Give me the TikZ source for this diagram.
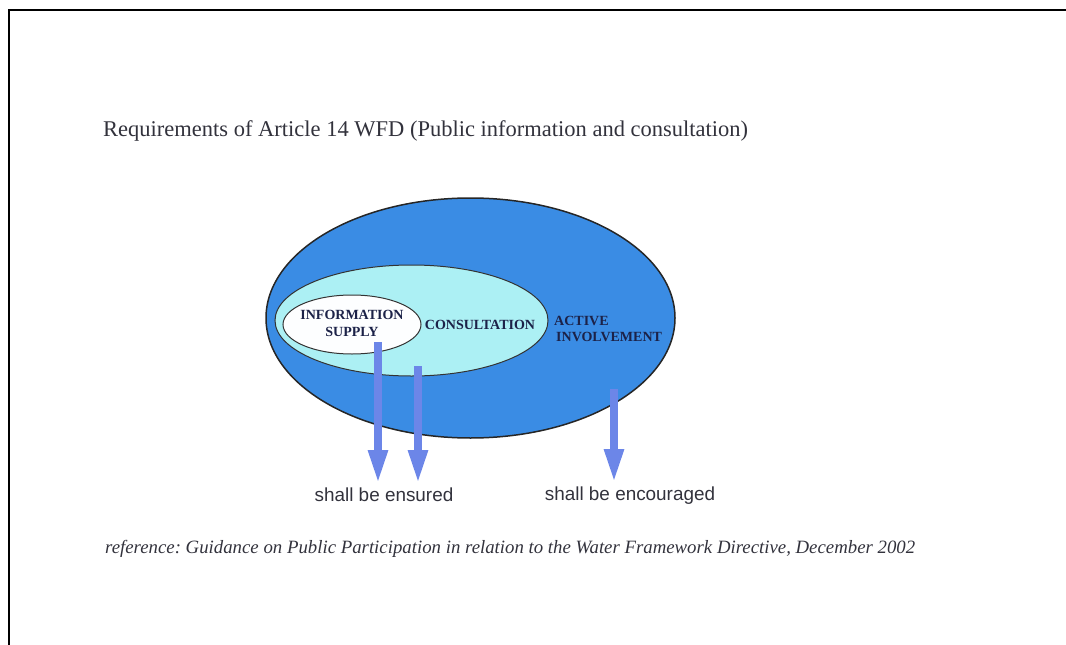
\documentclass[tikz,border=0pt]{standalone}
\usepackage{fontspec}
\setmainfont{Liberation Serif}
\newfontfamily\arialf{Liberation Sans}
\usetikzlibrary{arrows.meta}
\frenchspacing
\definecolor{outerblue}{RGB}{58,140,228}
\definecolor{consultc}{RGB}{172,240,244}
\definecolor{infoc}{RGB}{253,254,255}
\definecolor{arrowc}{RGB}{108,134,232}
\definecolor{labc}{RGB}{28,34,72}
\definecolor{grayt}{RGB}{50,50,60}
\begin{document}
\begin{tikzpicture}[x=1pt,y=-1pt,
  frame/.style={line width=2pt,black},
  elllab/.style={font=\fontsize{14}{15}\selectfont\bfseries,text=labc,inner sep=0pt},
  downarrow/.style={draw=arrowc,line width=8pt,-{Triangle[width=18pt,length=34pt]}},
  saylab/.style={font=\arialf\fontsize{18.9}{21}\selectfont,text=grayt,inner sep=0pt,anchor=base}]
\useasboundingbox (0,0) rectangle (1066,645);
\draw[frame] (9,645) -- (9,10) -- (1066,10);
\node[anchor=west,inner sep=0pt,font=\fontsize{22.5}{26}\selectfont,text=grayt] (title) at (103,131) {Requirements of Article 14 WFD (Public information and consultation)};
% ellipses
\draw[fill=outerblue,line width=1.5pt,draw=black!85] (470.5,318) ellipse [x radius=204.5,y radius=120];
\draw[fill=consultc,line width=1pt,draw=black!80] (411.5,320.5) ellipse [x radius=136.5,y radius=55.5];
\draw[fill=infoc,line width=1pt,draw=black!80] (352,324.5) ellipse [x radius=69,y radius=29.5];
% arrow anchor coordinates
\coordinate (a1s) at (378,342);
\coordinate (a1e) at (378,484);
\coordinate (a2s) at (418,366);
\coordinate (a2e) at (418,484);
\coordinate (a3s) at (614,389);
\coordinate (a3e) at (614,483);
\draw[downarrow] (a1s) -- (a1e);
\draw[downarrow] (a2s) -- (a2e);
\draw[downarrow] (a3s) -- (a3e);
% labels
\node[elllab,align=center] (info) at (352,323) {INFORMATION\\[2pt]SUPPLY};
\node[elllab] (cons) at (480,325) {CONSULTATION};
\node[elllab,align=left,anchor=west] (act) at (554,329) {ACTIVE\\[1pt]\hspace*{2pt}INVOLVEMENT};
\node[saylab] (ens) at (384,501) {shall be ensured};
\node[saylab] (enc) at (630,500) {shall be encouraged};
\node[anchor=west,inner sep=0pt,font=\fontsize{18.8}{22}\selectfont\itshape,text=grayt] (ref) at (105,549) {reference: Guidance on Public Participation in relation to the Water Framework Directive, December 2002};
\end{tikzpicture}
\end{document}
